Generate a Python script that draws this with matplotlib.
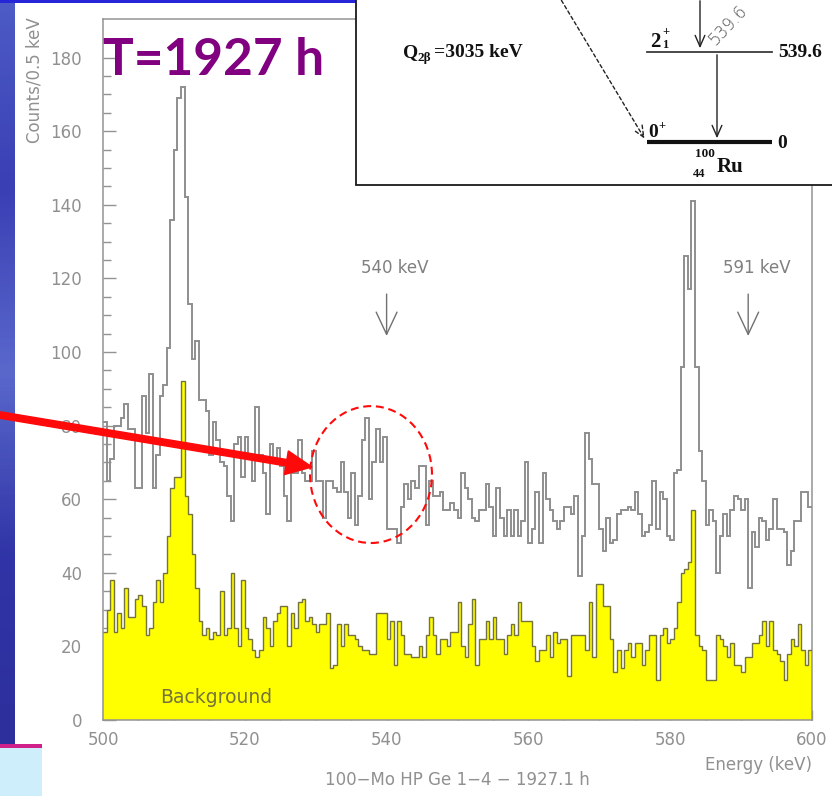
import numpy as np
import matplotlib

matplotlib.use("Agg")
import matplotlib.pyplot as plt
from matplotlib.colors import LinearSegmentedColormap
from matplotlib.patches import Ellipse, Rectangle, FancyArrow, FancyArrowPatch

W, H = 832, 796

# spectrum binning (keV)
E_MIN = 500.0
BIN_W = 0.5

# 100Mo sample run, counts per 0.5 keV bin (500 - 600 keV)
counts_run = [
    81, 65, 71, 80, 80, 82, 86, 79, 79, 63,
    63, 88, 78, 94, 63, 72, 88, 91, 101, 136,
    155, 169, 172, 142, 113, 98, 103, 87, 87, 84,
    72, 81, 76, 70, 69, 61, 54, 75, 77, 66,
    77, 72, 65, 85, 72, 67, 56, 75, 71, 74,
    69, 61, 54, 67, 67, 76, 67, 65, 65, 73,
    65, 65, 55, 65, 65, 63, 62, 70, 62, 55,
    67, 53, 61, 76, 82, 60, 70, 79, 70, 77,
    52, 52, 52, 48, 58, 64, 60, 65, 63, 69,
    69, 53, 65, 61, 61, 62, 57, 57, 59, 57,
    55, 67, 63, 60, 55, 54, 57, 57, 64, 58,
    50, 63, 55, 50, 57, 50, 57, 50, 54, 70,
    48, 52, 62, 48, 67, 60, 57, 54, 52, 54,
    58, 58, 56, 61, 39, 50, 78, 71, 64, 64,
    52, 46, 55, 48, 49, 56, 57, 57, 58, 57,
    62, 56, 50, 51, 53, 65, 52, 62, 60, 50,
    49, 67, 68, 96, 126, 117, 141, 96, 73, 65,
    53, 57, 54, 40, 50, 56, 50, 57, 61, 60,
    57, 60, 36, 51, 47, 55, 54, 49, 52, 60,
    52, 52, 51, 42, 46, 54, 54, 62, 62, 58,
]

# background run, same binning
counts_bkg = [
    24, 30, 38, 24, 29, 25, 36, 28, 28, 33,
    34, 31, 23, 25, 32, 38, 32, 40, 50, 63,
    66, 66, 92, 61, 56, 45, 36, 27, 23, 25,
    22, 24, 23, 35, 23, 25, 40, 25, 20, 38,
    25, 22, 19, 17, 19, 28, 25, 20, 27, 29,
    31, 31, 20, 29, 25, 32, 33, 27, 28, 26,
    24, 26, 26, 29, 14, 15, 26, 20, 26, 23,
    23, 22, 20, 19, 19, 18, 18, 29, 29, 29,
    22, 27, 15, 27, 23, 18, 18, 17, 17, 20,
    17, 23, 28, 23, 18, 22, 22, 20, 24, 24,
    32, 20, 17, 26, 33, 15, 22, 22, 27, 22,
    28, 22, 22, 18, 23, 26, 23, 32, 27, 27,
    27, 20, 16, 19, 19, 23, 17, 24, 21, 22,
    22, 12, 23, 23, 23, 23, 19, 32, 17, 37,
    37, 31, 31, 22, 13, 19, 14, 19, 21, 17,
    21, 21, 15, 19, 23, 23, 11, 23, 25, 21,
    22, 25, 32, 40, 41, 43, 57, 23, 20, 19,
    11, 11, 11, 23, 22, 20, 17, 21, 15, 15,
    13, 17, 17, 21, 21, 23, 27, 20, 27, 19,
    18, 16, 11, 18, 22, 20, 26, 19, 15, 19,
]

x_ticks = [500, 520, 540, 560, 580, 600]
y_ticks = [0, 20, 40, 60, 80, 100, 120, 140, 160, 180]
line_marks = [540, 591]
line_names = ["540 keV", "591 keV"]

GRAY_LINE = "#8e8e8e"
AXIS = "#939393"
LABEL = "#909090"
YELLOW = "#ffff00"
OLIVE = "#74733c"
PURPLE = "#800080"
RED = "#ff0a0a"


def px_box(x0, y0, x1, y1):
    # pixel box (origin top-left) -> figure fraction [l, b, w, h]
    return [x0 / W, 1 - y1 / H, (x1 - x0) / W, (y1 - y0) / H]


fig = plt.figure(figsize=(W / 100, H / 100), dpi=100)
fig.patch.set_facecolor("white")

# ---- spectrum ----
ax = fig.add_axes(px_box(103, 19, 812, 720))
edges = E_MIN + BIN_W * np.arange(len(counts_run) + 1)
ax.stairs(counts_bkg, edges, fill=True, color=YELLOW, zorder=2)
ax.stairs(counts_bkg, edges, color=OLIVE, lw=1.0, baseline=None, zorder=3)
ax.stairs(counts_run, edges, color=GRAY_LINE, lw=1.4, baseline=None, zorder=4)

ax.set_xlim(edges[0], edges[-1])
ax.set_ylim(0, 190.5)
ax.set_xticks(x_ticks)
ax.set_xticks(np.arange(500, 601, 5), minor=True)
ax.set_yticks(y_ticks)
ax.set_yticks(np.arange(0, 190, 5), minor=True)
for s in ax.spines.values():
    s.set_color(AXIS)
    s.set_linewidth(1.1)
ax.tick_params(which="both", direction="in", color=AXIS, width=1.0,
               labelcolor=LABEL, labelsize=12, top=False, right=False)
ax.tick_params(axis="y", which="major", length=9.5, pad=15)
ax.tick_params(axis="y", which="minor", length=5.5)
ax.tick_params(axis="x", which="major", length=7.5, pad=8)
ax.tick_params(axis="x", which="minor", length=4)

ax.set_ylabel("Counts/0.5 keV", loc="top", color=LABEL, fontsize=12)
ax.yaxis.set_label_coords(-0.0846, 1.003)
ax.set_xlabel("Energy (keV)", loc="right", color=LABEL, fontsize=12)
ax.xaxis.set_label_coords(1.0, -0.052)

ax.text(508.0, 4.6, "Background", color=OLIVE, fontsize=13.5,
        ha="left", va="baseline", zorder=5)

for e, name in zip(line_marks, line_names):
    ax.text(e + 1.2, 122.8, name, color="#808080", fontsize=12,
            ha="center", va="center", zorder=6)
    ax.add_patch(FancyArrowPatch((e, 116.5), (e, 103.6),
                                 arrowstyle="->,head_length=1.6,head_width=0.75",
                                 mutation_scale=10, color="#707070", lw=1.0,
                                 zorder=6))

# highlighted region around 540 keV
ax.add_patch(Ellipse((537.8, 66.7), 17.2, 37.2, fill=False, ec=RED, lw=1.5,
                     ls=(0, (3.8, 2.3)), zorder=7, clip_on=False))

fig.text(457 / W, 1 - 780 / H, "100\u2212Mo HP Ge 1\u22124 \u2212 1927.1 h",
         color=LABEL, fontsize=12, ha="center", va="center")

fig.text(103 / W, 1 - 75 / H, "T=1927 h", color=PURPLE, fontsize=37,
         fontfamily="Lato", fontweight="bold", ha="left", va="baseline")

# ---- overlay in pixel units: slide strip, arrow, level scheme ----
ov = fig.add_axes([0, 0, 1, 1], zorder=10)
ov.axis("off")

strip = np.linspace(0, 1, 200)[:, None]
blues = LinearSegmentedColormap.from_list(
    "slide", ["#4d5cc6", "#3a3fb4", "#5a68cc", "#3034a6", "#2d2f9c"])
ov.imshow(strip, cmap=blues, extent=[0, 15, 744, 0], aspect="auto", zorder=1)
ov.add_patch(Rectangle((0, 0), 356, 3, facecolor="#2626d8", edgecolor="none",
                       zorder=1))
# lower-left slide corner
ov.add_patch(Rectangle((0, 748), 42, 50, facecolor="#cdeefa",
                       edgecolor="none", zorder=1))
ov.add_patch(Rectangle((0, 744), 42, 4, facecolor="#d0208a",
                       edgecolor="none", zorder=1))

ov.add_patch(FancyArrow(0, 415, 312, 52, width=6.5, head_width=24,
                        head_length=26, length_includes_head=True,
                        color=RED, zorder=5))

# level scheme box
ov.add_patch(Rectangle((356, -5), 490, 190, facecolor="white",
                       edgecolor="#1a1a1a", lw=1.3, zorder=3))
serif = dict(fontfamily="Liberation Serif", fontweight="bold", color="#111111",
             zorder=6)
ov.text(403, 57, "Q", fontsize=14, ha="left", va="baseline", **serif)
ov.text(417, 61, "2\u03b2", fontsize=9.5, ha="left", va="baseline", **serif)
ov.text(434, 57, "=3035 keV", fontsize=14, ha="left", va="baseline", **serif)

ov.plot([647, 772], [51.5, 51.5], color="#3a3a3a", lw=1.3, zorder=5)
ov.text(650, 47, "2", fontsize=15, ha="left", va="baseline", **serif)
ov.text(662, 35, "+", fontsize=9, ha="left", va="baseline", **serif)
ov.text(662, 48.5, "1", fontsize=9, ha="left", va="baseline", **serif)
ov.text(778, 57, "539.6", fontsize=14, ha="left", va="baseline", **serif)

ov.plot([647, 772], [141.7, 141.7], color="#111111", lw=3.0, zorder=5,
        solid_capstyle="butt")
ov.text(648, 137, "0", fontsize=14, ha="left", va="baseline", **serif)
ov.text(658, 129, "+", fontsize=9, ha="left", va="baseline", **serif)
ov.text(777, 147.5, "0", fontsize=14, ha="left", va="baseline", **serif)
ov.text(695, 157, "100", fontsize=9.5, ha="left", va="baseline", **serif)
ov.text(693, 177, "44", fontsize=9, ha="left", va="baseline", **serif)
ov.text(717, 172, "Ru", fontsize=15, ha="left", va="baseline", **serif)

for (x0, y0), (x1, y1), ls in [((700, -2), (700, 51), "-"),
                                ((717, 52), (717, 141), "-"),
                                ((560, -2), (646, 141), (0, (2.5, 2.0)))]:
    ov.add_patch(FancyArrowPatch((x0, y0), (x1, y1),
                                 arrowstyle="->,head_length=0.8,head_width=0.35",
                                 mutation_scale=10, color="#222222", lw=1.0,
                                 ls=ls, zorder=6))
ov.text(728, 25, "539.6", fontsize=12, color="#5a5a5a", rotation=47,
        ha="center", va="center", fontweight="light", zorder=6)

ov.set_xlim(0, W)
ov.set_ylim(H, 0)

fig.savefig("out.png", dpi=100, facecolor="white")
